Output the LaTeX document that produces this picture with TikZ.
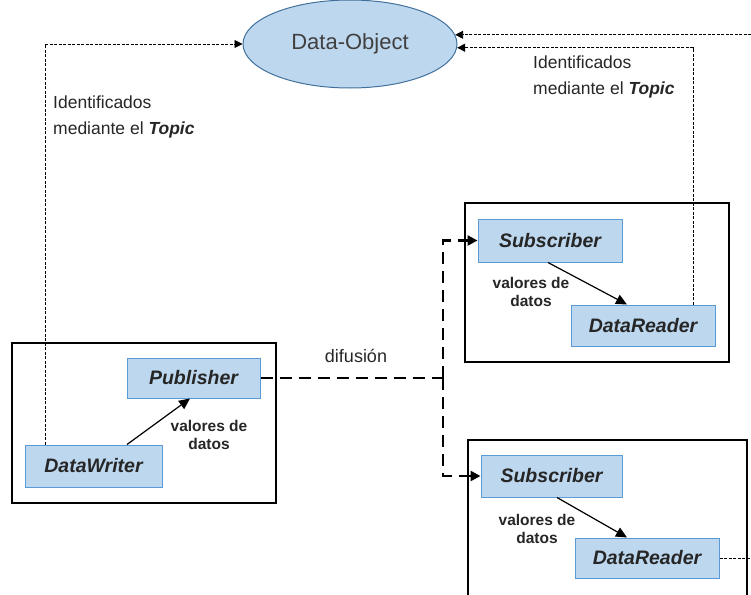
\documentclass[tikz,border=0pt]{standalone}
\usepackage{fontspec}
\setmainfont{Liberation Sans}
\usetikzlibrary{arrows.meta,shapes.geometric}
\definecolor{boxfill}{HTML}{BDD7EE}
\definecolor{boxline}{HTML}{5B9BD5}
\definecolor{ellline}{HTML}{41719C}
\definecolor{txtgray}{HTML}{404040}
\tikzset{
  entity/.style={draw=boxline, fill=boxfill, line width=1pt, inner sep=0pt,
    font=\fontsize{19.5}{22}\selectfont\bfseries\itshape, text=black!85},
  frame/.style={draw=black, line width=1.2pt, inner sep=0pt},
  idlink/.style={line width=0.9pt, dash pattern=on 3pt off 1.5pt,
    -{Triangle[length=8pt,width=8pt]}},
  plainlink/.style={line width=0.9pt, dash pattern=on 3pt off 1.5pt},
  flow/.style={line width=2.8pt, dash pattern=on 12pt off 7pt},
  flowend/.style={flow, -{Triangle[length=10pt,width=10pt]}},
  datalink/.style={line width=1.2pt, -{Triangle[length=11pt,width=10pt]}},
  vallabel/.style={font=\fontsize{15.5}{18}\selectfont\bfseries, align=center, text=black!85},
  idlabel/.style={font=\fontsize{17.5}{26}\selectfont, align=left, text=black!85, inner sep=0pt},
}
\begin{document}
\begin{tikzpicture}[x=1pt,y=-1pt]
\useasboundingbox (0,0) rectangle (751,594);

% shared data object
\node[ellipse, draw=ellline, fill=boxfill, line width=1pt, minimum width=214pt,
  minimum height=88pt, inner sep=0pt, text=txtgray,
  font=\fontsize{22}{24}\selectfont] (obj) at (350,44) {Data-Object};

% publishing side
\node[frame, minimum width=264pt, minimum height=160pt] (pgrp) at (144,423) {};
\node[entity, minimum width=133pt, minimum height=40pt] (pub) at (193.5,378) {Publisher};
\node[entity, minimum width=137pt, minimum height=42pt] (dw) at (93.5,466) {DataWriter};

% first subscribing side
\node[frame, minimum width=264pt, minimum height=159pt] (sgrp1) at (597,282.5) {};
\node[entity, minimum width=144pt, minimum height=43pt] (sub1) at (550,240.5) {Subscriber};
\node[entity, minimum width=144pt, minimum height=41pt] (dr1) at (643,325.5) {DataReader};

% second subscribing side (runs past the lower edge)
\node[frame, minimum width=279pt, minimum height=170pt] (sgrp2) at (607.5,525) {};
\node[entity, minimum width=141pt, minimum height=42pt] (sub2) at (551.5,476) {Subscriber};
\node[entity, minimum width=144pt, minimum height=40pt] (dr2) at (647,558) {DataReader};

% helper coordinates for routed links
\coordinate (rx) at (693,0);
\coordinate (edge) at (751,0);
\coordinate (bx) at (443,0);

% topic identification links
\draw[idlink] ([xshift=-48.5pt]dw.north) |- (obj.west);
\draw[idlink] (dr1.north -| rx) |- (obj.-2.6);
\draw[idlink] (edge |- obj.5.2) -- (obj.5.2);
\draw[plainlink] (dr2.east) -- (dr2.east -| edge);

% data value links
\draw[datalink] ([xshift=33.5pt]dw.north) -- ([xshift=-3.5pt]pub.south);
\draw[datalink] ([xshift=-2pt]sub1.south) -- ([xshift=-16pt]dr1.north);
\draw[datalink] ([xshift=5.5pt]sub2.south) -- ([xshift=-20pt]dr2.north);

% distribution
\draw[flow] (pub.east) -- (pub.east -| bx);
\draw[flowend] (pub.east -| bx) |- (sub1.west);
\draw[flowend] (pub.east -| bx) |- (sub2.west);

% labels
\node[vallabel] (v0) at (209,435) {valores de\\datos};
\node[vallabel] (v1) at (531,292) {valores de\\datos};
\node[vallabel] (v2) at (537,529) {valores de\\datos};
\node[font=\fontsize{18}{20}\selectfont, text=black!85] (dif) at (356,356) {difusión};
\node[idlabel, anchor=west] (idl) at (53,117) {Identificados\\mediante el \textbf{\textit{Topic}}};
\node[idlabel, anchor=west] (idr) at (533,77) {Identificados\\mediante el \textbf{\textit{Topic}}};
\end{tikzpicture}
\end{document}
